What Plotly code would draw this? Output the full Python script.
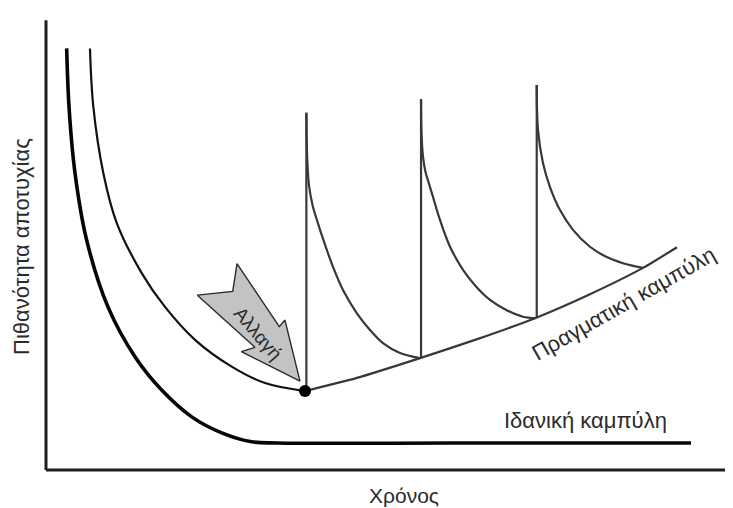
import plotly.graph_objects as go

# Units: t = time (0..100), p = failure probability (0..100)
ideal_t = [3.01, 3.35, 4.22, 5.92, 9.02, 12.95, 16.84, 21.21, 25.58, 29.94, 33.77, 58.81, 93.89]
ideal_p = [89.7, 77.3, 63.2, 48.9, 34.7, 24.1, 17.0, 11.3, 7.9, 6.0, 5.74, 5.74, 5.74]

actual_t = [6.40, 6.89, 8.34, 10.29, 13.93, 17.32, 21.69, 27.03, 31.88, 37.70]
actual_p = [89.7, 77.3, 63.2, 52.6, 41.9, 34.7, 27.7, 22.0, 18.5, 16.8]

trend_t = [37.70, 45.27, 54.44, 62.88, 71.18, 79.18, 86.90, 91.85]
trend_p = [16.8, 19.6, 23.8, 27.9, 32.3, 37.4, 43.0, 47.4]

spike_t = [37.90, 54.59, 71.43]
spike_base = [16.8, 23.8, 32.3]
spike_top = [76.0, 78.9, 81.9]

decay1_t = [37.90, 38.03, 38.28, 38.79, 39.52, 40.39, 41.78, 43.23, 45.23, 47.16, 49.05, 51.53, 54.44]
decay1_p = [76.0, 66.0, 60.6, 56.4, 52.8, 48.9, 43.2, 38.3, 33.4, 29.8, 27.0, 24.9, 23.8]
decay2_t = [54.59, 54.67, 54.88, 55.24, 55.75, 56.33, 57.35, 58.81, 60.70, 62.69, 64.63, 67.06, 69.43, 71.18]
decay2_p = [78.9, 71.3, 66.6, 63.4, 60.9, 58.1, 53.2, 47.5, 42.6, 38.9, 36.2, 34.0, 32.6, 32.3]
decay3_t = [71.43, 71.62, 72.34, 73.36, 74.82, 76.71, 79.18, 81.62, 83.99, 86.90]
decay3_p = [81.9, 72.3, 65.3, 60.2, 55.3, 51.1, 47.5, 45.3, 44.0, 43.0]

change_t = [37.70]
change_p = [16.8]

arrow_t = [27.80, 33.96, 34.78, 36.97, 28.43, 30.42, 22.03, 27.18, 27.80]
arrow_p = [43.9, 30.5, 31.9, 18.9, 25.2, 26.1, 37.2, 38.0, 43.9]

axis_top = 95.7

THIN = "#383838"
fig = go.Figure()

fig.add_trace(go.Scatter(x=ideal_t, y=ideal_p, mode="lines",
                         line=dict(color="#050505", width=3.6, shape="spline", smoothing=1.0)))
fig.add_trace(go.Scatter(x=actual_t, y=actual_p, mode="lines",
                         line=dict(color="#111111", width=2.2, shape="spline", smoothing=1.0)))
fig.add_trace(go.Scatter(x=trend_t, y=trend_p, mode="lines",
                         line=dict(color=THIN, width=2.2, shape="spline", smoothing=0.6)))
for dt, dp in [(decay1_t, decay1_p), (decay2_t, decay2_p), (decay3_t, decay3_p)]:
    fig.add_trace(go.Scatter(x=dt, y=dp, mode="lines",
                             line=dict(color=THIN, width=2.2, shape="spline", smoothing=1.0)))
for st, sb, stp in zip(spike_t, spike_base, spike_top):
    fig.add_trace(go.Scatter(x=[st, st], y=[sb, stp], mode="lines",
                             line=dict(color=THIN, width=2.2)))
fig.add_trace(go.Scatter(x=arrow_t, y=arrow_p, mode="lines", fill="toself",
                         fillcolor="#c3c3c3", line=dict(color="#2a2a2a", width=1.4)))
fig.add_trace(go.Scatter(x=change_t, y=change_p, mode="markers",
                         marker=dict(color="black", size=12)))

# axes
fig.add_shape(type="line", x0=0, x1=100, y0=0, y1=0, xref="x", yref="y",
              line=dict(color="#1e1e1e", width=3))
fig.add_shape(type="line", x0=0, x1=0, y0=0, y1=axis_top, xref="x", yref="y",
              line=dict(color="#1e1e1e", width=3))

FONT = "Liberation Sans, Arial, sans-serif"
TXT = "#2b2b2b"
fig.add_annotation(x=78.46, y=10.6, xref="x", yref="y", text="Ιδανική καμπύλη",
                   showarrow=False, font=dict(family=FONT, size=22, color=TXT))
fig.add_annotation(x=84.13, y=35.5, xref="x", yref="y", text="Πραγματική καμπύλη",
                   showarrow=False, textangle=-29.6, font=dict(family=FONT, size=22, color=TXT))
fig.add_annotation(x=30.86, y=29.1, xref="x", yref="y", text="Αλλαγή",
                   showarrow=False, textangle=49.5, font=dict(family=FONT, size=19, color=TXT))
fig.add_annotation(x=0.5226, y=-0.0517, xref="paper", yref="paper", text="Χρόνος",
                   showarrow=False, yanchor="middle", font=dict(family=FONT, size=21, color=TXT))
fig.add_annotation(x=-0.0335, y=0.487, xref="paper", yref="paper", text="Πιθανότητα αποτυχίας",
                   showarrow=False, textangle=-90, xanchor="center", yanchor="middle",
                   font=dict(family=FONT, size=22, color=TXT))

# page body has an 8px margin, so the figure is 8px smaller and shifted
fig.update_layout(
    width=725, height=500,
    margin=dict(l=36, r=0, t=0, b=36),
    paper_bgcolor="white", plot_bgcolor="white",
    showlegend=False,
    xaxis=dict(range=[-0.291, 100], visible=False, fixedrange=True),
    yaxis=dict(range=[-0.4255, 98.3], visible=False, fixedrange=True),
)

fig.write_html("out.html")
